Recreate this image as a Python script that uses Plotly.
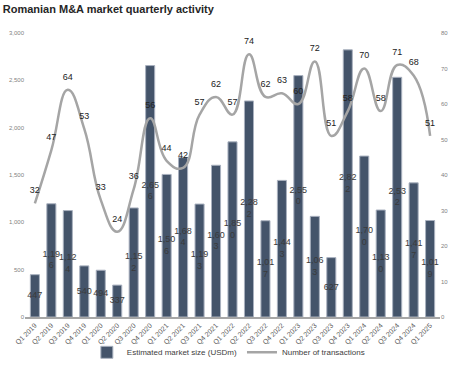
import plotly.graph_objects as go

quarters = ["Q1 2019", "Q2 2019", "Q3 2019", "Q4 2019", "Q1 2020", "Q2 2020", "Q3 2020", "Q4 2020",
            "Q1 2021", "Q2 2021", "Q3 2021", "Q4 2021", "Q1 2022", "Q2 2022", "Q3 2022", "Q4 2022",
            "Q1 2023", "Q2 2023", "Q3 2023", "Q4 2023", "Q1 2024", "Q2 2024", "Q3 2024", "Q4 2024",
            "Q1 2025"]
market_size = [447, 1196, 1124, 540, 494, 337, 1152, 2656,
               1506, 1684, 1193, 1603, 1850, 2282, 1017, 1443,
               2550, 1063, 627, 2822, 1700, 1130, 2532, 1417,
               1019]
transactions = [32, 47, 64, 53, 33, 24, 36, 56,
                44, 42, 57, 62, 57, 74, 62, 63,
                60, 72, 51, 58, 70, 58, 71, 68,
                51]


def bar_label(v):
    s = f"{v:,}"
    if len(s) > 3:
        return s[:4] + "<br>" + s[4:]
    return s


fig = go.Figure()
fig.add_trace(go.Bar(
    x=quarters, y=market_size, name="Estimated market size (USDm)",
    marker=dict(color="#44546A", line=dict(color="#A9B1BF", width=1)),
))
# bar value labels centred in each bar (overflowing the bar width as in the original)
fig.add_trace(go.Scatter(
    x=quarters, y=[v / 2 for v in market_size], mode="text",
    text=[bar_label(v) for v in market_size], textposition="middle center",
    textfont=dict(size=9, color="#3A3A3A", family="Liberation Sans"),
    showlegend=False, hoverinfo="skip", cliponaxis=False,
))
fig.add_trace(go.Scatter(
    x=quarters, y=transactions, name="Number of transactions", yaxis="y2",
    mode="lines+markers+text", line=dict(color="#A5A5A5", width=2.5, shape="spline", smoothing=1.3),
    marker=dict(size=11, color="rgba(0,0,0,0)"),
    text=[str(v) for v in transactions], textposition="top center",
    textfont=dict(size=9, color="#222222", family="Liberation Sans"),
    cliponaxis=False,
))

fig.update_layout(
    width=463, height=367,
    margin=dict(l=25, r=23, t=33, b=50, autoexpand=False),
    paper_bgcolor="white", plot_bgcolor="white",
    bargap=0.45,
    showlegend=True,
    font=dict(family="Liberation Sans", color="#595959"),
    title=dict(text="<b>Romanian M&A market quarterly activity</b>", x=0.006, xanchor="left",
               xref="container", yref="container", y=0.985, yanchor="top",
               font=dict(size=11, color="#262626", family="Liberation Sans")),
    legend=dict(orientation="h", x=0.49, xanchor="center", yref="container", y=0.04, yanchor="middle",
                font=dict(size=8, color="#404040"), bgcolor="rgba(0,0,0,0)",
                tracegroupgap=0, itemwidth=30),
    xaxis=dict(type="category", range=[-0.6, 24.6], tickangle=-45, automargin=False,
               tickfont=dict(size=7, color="#595959"), showline=True, linecolor="#A6A6A6",
               linewidth=1.5, ticks="", showgrid=False),
    yaxis=dict(range=[0, 3000], dtick=500, tickformat=",", tickfont=dict(size=6, color="#7F7F7F"),
               showgrid=False, zeroline=False, showline=False, automargin=False),
    yaxis2=dict(range=[0, 80], dtick=10, overlaying="y", side="right", automargin=False,
                tickfont=dict(size=6, color="#7F7F7F"), showgrid=False, zeroline=False, showline=False),
)

fig.write_html("out.html", config={"displayModeBar": False},
               post_script="document.body.style.margin='0';document.body.style.overflow='hidden';")
